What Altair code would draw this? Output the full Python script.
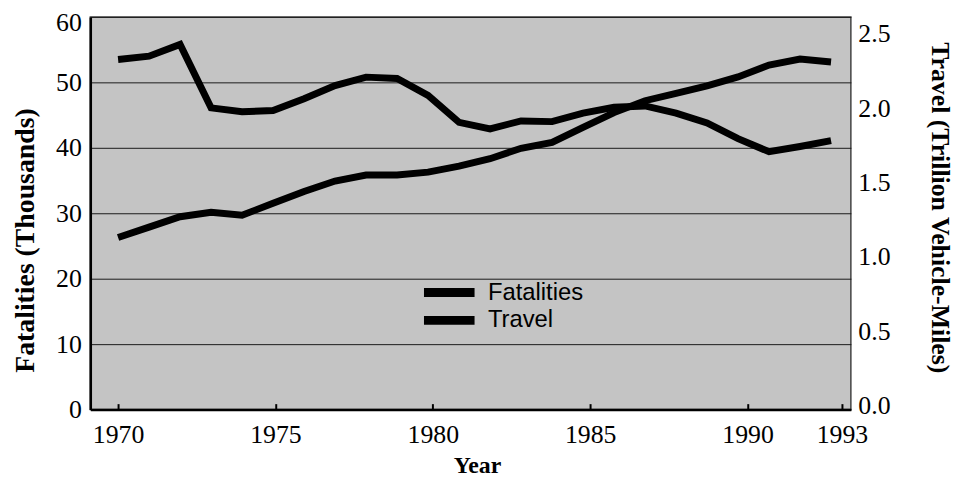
import altair as alt
import pandas as pd

# ---- data ----
years = list(range(1970, 1994))
fatalities = [53.5, 54.0, 55.8, 46.1, 45.5, 45.7, 47.5, 49.5, 50.8, 50.6, 48.0, 43.9,
              42.9, 44.1, 44.0, 45.3, 46.2, 46.4, 45.3, 43.8, 41.4, 39.4, 40.2, 41.1]
travel = [1.13, 1.20, 1.27, 1.30, 1.28, 1.36, 1.44, 1.51, 1.55, 1.55, 1.57, 1.61,
          1.66, 1.73, 1.77, 1.87, 1.97, 2.05, 2.10, 2.15, 2.21, 2.29, 2.33, 2.31]
series = ["Fatalities", "Travel"]
tick_years = [1970, 1975, 1980, 1985, 1990, 1993]
fat_ticks = [0, 10, 20, 30, 40, 50, 60]
travel_ticks = [0.0, 0.5, 1.0, 1.5, 2.0, 2.5]

W, H = 767, 396
SERIF = "Liberation Serif"

df = pd.DataFrame({"year": years, "fatalities": fatalities, "travel": travel})
axis_df = pd.DataFrame({"year": tick_years})

legend = alt.Legend(
    orient="none", legendX=332, legendY=266, title=None,
    symbolType="stroke", symbolSize=2601, symbolStrokeWidth=9,
    labelFont="Liberation Sans", labelFontSize=24, labelColor="black",
    labelOffset=9, clipHeight=24, rowPadding=4, padding=0, symbolOffset=0,
    labelBaseline="middle",
)
color = alt.Color("series:N",
                  scale=alt.Scale(domain=series, range=["black", "black"]),
                  legend=legend)

x_data = alt.X("year:Q", scale=alt.Scale(domain=[1969.104, 1993.640], nice=False, zero=False),
               axis=None)
x_axis_scale = alt.Scale(domain=[1969.118, 1993.284], nice=False, zero=False)

line_style = dict(strokeWidth=7, strokeJoin="miter", strokeCap="butt")

fat = alt.Chart(df).transform_calculate(series="'Fatalities'").mark_line(**line_style).encode(
    x=x_data,
    y=alt.Y("fatalities:Q",
            scale=alt.Scale(domain=[0, 60], nice=False, zero=False),
            axis=alt.Axis(
                orient="left", values=fat_ticks, title="Fatalities (Thousands)",
                grid=True, gridColor="#1a1a1a", gridWidth=1,
                ticks=False, tickSize=0,
                domain=True, domainColor="black", domainWidth=2.5,
                labelFont=SERIF, labelFontSize=26, labelColor="black",
                labelPadding=9, labelBaseline="middle",
                labelOffset={"expr": "datum.value == 60 ? 6 : 0"},
                titleFont=SERIF, titleFontSize=28, titleFontWeight="bold", titleColor="black",
                titleX=-65, titleY=225, titleAngle=270,
                titleAlign="center", titleBaseline="middle",
            )),
    color=color,
)

trav = alt.Chart(df).transform_calculate(series="'Travel'").mark_line(**line_style).encode(
    x=x_data,
    y=alt.Y("travel:Q",
            scale=alt.Scale(domain=[-0.0267, 2.6133], nice=False, zero=False),
            axis=alt.Axis(
                orient="right", values=travel_ticks, format=".1f",
                title="Travel (Trillion Vehicle-Miles)",
                grid=False, ticks=False, tickSize=0, domain=False,
                labelFont=SERIF, labelFontSize=26, labelColor="black",
                labelPadding=7, labelBaseline="middle",
                titleFont=SERIF, titleFontSize=26, titleFontWeight="bold", titleColor="black",
                titleX=89, titleY=192, titleAngle=90,
                titleAlign="center", titleBaseline="middle",
            )),
    color=color,
)

x_labels = alt.Chart(axis_df).mark_point(opacity=0).encode(
    x=alt.X("year:Q", scale=x_axis_scale,
            axis=alt.Axis(
                orient="bottom", values=tick_years, format="d", title="Year",
                ticks=False, tickSize=0, grid=False,
                domain=True, domainColor="black", domainWidth=2.5,
                labelFont=SERIF, labelFontSize=26, labelColor="black",
                labelPadding=12, labelFlush=False, labelOverlap=False,
                titleFont=SERIF, titleFontSize=24, titleFontWeight="bold", titleColor="black",
                titleX=390, titleY=56, titleAlign="center", titleBaseline="middle",
            ))
)

x_ticks = alt.Chart(axis_df).mark_point(opacity=0).encode(
    x=alt.X("year:Q", scale=x_axis_scale,
            axis=alt.Axis(
                orient="top", offset=-H, values=tick_years,
                labels=False, ticks=True, tickSize=6, tickWidth=2, tickColor="black",
                domain=False, grid=False, title=None,
            ))
)

chart = alt.layer(fat, trav, x_labels, x_ticks).resolve_scale(
    x="independent", y="independent"
).properties(
    width=W, height=H,
    autosize=alt.AutoSizeParams(type="none"),
    padding={"left": 83, "top": 7, "right": 104, "bottom": 68},
    background="white",
).configure_view(
    fill="#c4c4c4", stroke="#444444", strokeWidth=1.5
)

chart.save("out.html", embed_options={"renderer": "svg", "actions": False})
